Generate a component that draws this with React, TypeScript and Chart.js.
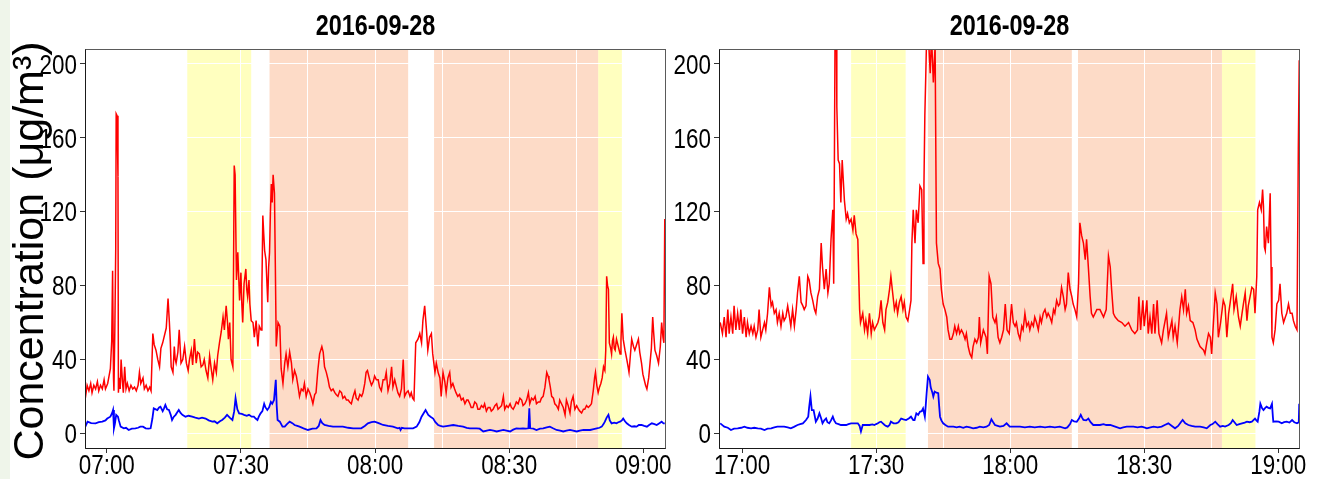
import { useEffect, useRef } from 'react';
import { Chart, registerables } from 'chart.js';

Chart.register(...registerables);

// ---- axis definitions ----
const yTickValues = [0, 40, 80, 120, 160, 200];
const xTickMinutes = [0, 15, 30, 45, 60, 75, 90, 105, 120];
const xLabelledMinutes = [0, 30, 60, 90, 120];
const panelTitle = '2016-09-28';
const yAxisTitle = 'Concentration (μg/m³)';
const amStartHour = 7;
const pmStartHour = 17;

// ---- shaded periods [start, end] in minutes after the start hour ----
const amYellow: [number, number][] = [[18.0, 32.3], [109.9, 115.2]];
const amPeach: [number, number][] = [[36.4, 67.4], [73.2, 109.9]];
const pmYellow: [number, number][] = [[24.4, 36.6], [107.4, 114.9]];
const pmPeach: [number, number][] = [[41.6, 73.8], [75.1, 107.4]];

// ---- morning PM2.5 (red), [minute, µg/m³] ----
const amPm25: [number, number][] = [
  [-4.8, 19], [-4.4, 26], [-4.0, 23], [-3.6, 27], [-3.3, 22], [-2.9, 26], [-2.5, 24], [-2.1, 28],
  [-1.8, 23], [-1.4, 26], [-1.0, 24], [-0.6, 29], [-0.3, 24], [0.2, 27], [0.5, 31], [0.8, 35],
  [1.1, 50], [1.3, 88], [1.5, 30], [1.6, 23], [1.8, 56], [2.0, 100], [2.1, 173], [2.3, 172],
  [2.5, 139], [2.6, 22], [2.8, 30], [3.0, 24], [3.2, 40], [3.5, 28], [3.7, 22], [4.0, 36],
  [4.3, 24], [4.6, 27], [5.0, 23], [5.4, 26], [5.8, 24], [6.2, 25], [6.6, 23], [7.0, 26],
  [7.3, 33], [7.6, 27], [8.1, 30], [8.4, 24], [8.8, 26], [9.2, 23], [9.6, 25], [9.9, 23],
  [10.3, 54], [10.6, 48], [11.0, 45], [11.4, 40], [11.8, 36], [12.1, 46], [12.5, 49], [13.3, 57],
  [13.5, 65], [13.7, 73], [14.0, 60], [14.2, 50], [14.4, 36], [14.8, 33], [15.1, 47], [15.3, 40],
  [15.5, 38], [15.9, 44], [16.2, 56], [16.6, 38], [17.0, 40], [17.4, 47], [17.8, 38], [18.2, 34],
  [18.5, 40], [18.9, 45], [19.2, 37], [19.6, 51], [20.0, 38], [20.3, 44], [20.7, 43], [21.1, 36],
  [21.5, 37], [21.8, 40], [22.2, 34], [22.6, 30], [23.0, 42], [23.3, 36], [23.7, 29], [24.1, 38],
  [24.5, 33], [24.8, 42], [25.2, 49], [25.6, 55], [26.0, 63], [26.3, 56], [26.7, 69], [27.0, 60],
  [27.2, 51], [27.5, 60], [27.8, 40], [28.2, 36], [28.5, 145], [28.7, 140], [29.0, 83], [29.3, 98],
  [29.7, 72], [30.0, 87], [30.2, 70], [30.4, 60], [30.7, 81], [31.1, 89], [31.3, 78], [31.5, 74],
  [31.8, 83], [32.0, 70], [32.3, 61], [32.7, 60], [33.0, 52], [33.4, 61], [33.8, 47], [34.1, 58],
  [34.5, 56], [34.7, 80], [34.9, 118], [35.1, 108], [35.3, 99], [35.6, 94], [36.0, 71], [36.2, 90],
  [36.4, 98], [36.6, 120], [36.8, 135], [37.0, 125], [37.2, 140], [37.5, 130], [37.7, 90], [37.9, 47],
  [38.3, 60], [38.7, 58], [39.0, 35], [39.4, 27], [39.8, 38], [40.1, 43], [40.5, 36], [40.9, 44],
  [41.3, 38], [41.6, 29], [42.0, 34], [42.4, 31], [42.8, 25], [43.1, 20], [43.5, 24], [43.9, 23],
  [44.2, 27], [44.6, 20], [45.0, 24], [45.4, 22], [45.8, 19], [46.1, 16], [46.5, 21], [46.8, 22],
  [47.2, 34], [47.6, 43], [48.1, 47], [48.4, 44], [48.7, 36], [49.1, 33], [49.5, 29], [49.8, 25],
  [50.2, 23], [50.6, 24], [51.0, 22], [51.3, 21], [51.7, 20], [52.1, 23], [52.5, 22], [52.8, 19],
  [53.2, 20], [53.6, 18], [54.0, 18], [54.3, 17], [54.7, 16], [55.1, 20], [55.5, 23], [55.8, 19],
  [56.2, 18], [56.6, 21], [57.0, 20], [57.3, 22], [57.7, 27], [58.0, 33], [58.3, 34], [58.8, 29],
  [59.2, 26], [59.6, 28], [59.9, 31], [60.3, 29], [60.7, 29], [61.0, 25], [61.4, 23], [61.8, 29],
  [62.2, 29], [62.5, 33], [62.9, 23], [63.3, 27], [63.7, 36], [64.0, 25], [64.4, 29], [64.8, 25],
  [65.1, 22], [65.5, 20], [65.9, 24], [66.3, 40], [66.6, 20], [67.0, 22], [67.4, 23], [67.8, 20],
  [68.1, 22], [68.4, 19], [68.7, 18], [69.1, 49], [69.6, 51], [70.0, 54], [70.4, 49], [70.7, 61],
  [71.1, 69], [71.5, 56], [71.8, 45], [72.2, 52], [72.6, 54], [72.9, 43], [73.4, 33], [73.7, 38],
  [74.1, 33], [74.5, 30], [74.8, 20], [75.2, 33], [75.6, 28], [75.9, 22], [76.3, 30], [76.7, 33],
  [77.0, 25], [77.4, 27], [77.8, 24], [78.1, 22], [78.5, 20], [78.9, 21], [79.3, 18], [79.7, 19],
  [80.1, 16], [80.5, 18], [80.8, 18], [81.2, 16], [81.5, 14], [81.9, 14], [82.3, 17], [82.7, 16],
  [83.0, 13], [83.4, 13], [83.8, 15], [84.2, 14], [84.5, 16], [84.9, 12], [85.3, 14], [85.7, 14],
  [86.0, 12], [86.4, 13], [86.8, 15], [87.2, 16], [87.5, 13], [87.9, 14], [88.3, 15], [88.7, 20],
  [89.0, 13], [89.4, 15], [89.8, 14], [90.2, 16], [90.5, 14], [90.9, 13], [91.3, 15], [91.6, 17],
  [92.0, 16], [92.4, 19], [92.8, 18], [93.1, 15], [93.5, 16], [93.9, 18], [94.3, 22], [94.6, 16],
  [95.0, 19], [95.4, 18], [95.8, 20], [96.1, 16], [96.5, 17], [96.9, 17], [97.2, 19], [97.6, 20],
  [98.0, 25], [98.4, 33], [98.7, 31], [98.9, 29], [99.2, 25], [99.5, 20], [99.9, 19], [100.2, 16],
  [100.6, 15], [101.0, 13], [101.3, 18], [101.7, 16], [102.1, 14], [102.5, 10], [102.8, 18], [103.2, 15],
  [103.6, 11], [103.9, 17], [104.3, 20], [104.7, 13], [105.1, 15], [105.5, 13], [105.8, 12], [106.2, 11],
  [106.6, 13], [106.9, 13], [107.3, 15], [107.7, 14], [108.1, 15], [108.4, 16], [108.8, 23], [109.1, 30],
  [109.3, 33], [109.6, 26], [109.9, 22], [110.2, 25], [110.5, 27], [110.8, 30], [111.1, 36], [111.4, 34],
  [111.6, 45], [111.8, 85], [112.0, 80], [112.2, 78], [112.4, 49], [112.7, 46], [112.9, 43], [113.1, 50],
  [113.3, 52], [113.5, 46], [113.7, 45], [114.0, 51], [114.4, 47], [114.8, 43], [115.0, 50], [115.2, 65],
  [115.5, 51], [115.9, 45], [116.3, 40], [116.6, 36], [116.8, 33], [117.1, 42], [117.4, 51], [117.8, 47],
  [118.1, 45], [118.5, 48], [118.9, 51], [119.2, 44], [119.6, 38], [119.9, 32], [120.2, 29], [120.5, 26],
  [120.8, 24], [121.2, 30], [121.5, 38], [121.8, 46], [122.1, 63], [122.3, 55], [122.6, 45], [123.0, 42],
  [123.4, 38], [123.8, 47], [124.1, 60], [124.4, 52], [124.6, 49], [124.8, 116],
];

// ---- morning black carbon (blue) ----
const amBc: [number, number][] = [
  [-4.8, 3.6], [-4.3, 6.3], [-3.5, 5.5], [-2.5, 5.4], [-1.8, 6], [-1.0, 6.3], [-0.3, 7], [0.1, 8],
  [0.8, 9], [1.2, 11], [1.4, 12.6], [1.6, 2.7], [1.8, 5], [2.1, 10], [2.5, 9], [2.7, 7],
  [3.1, 3.6], [3.8, 2.7], [4.3, 3], [4.9, 1.8], [5.6, 2.5], [6.4, 2.7], [7.0, 3], [7.5, 3.6],
  [8.1, 3.6], [8.7, 2.7], [9.3, 2.5], [9.8, 2.7], [10.2, 8], [10.5, 13.5], [11.3, 12.6], [11.7, 14],
  [12.0, 14.4], [12.5, 12], [12.8, 13.5], [13.1, 15.4], [13.5, 13], [13.9, 12.6], [14.3, 10], [14.6, 7.2],
  [15.0, 9], [15.4, 10], [15.8, 11.5], [16.1, 12.6], [16.5, 11], [16.9, 10], [17.6, 9], [18.3, 9.5],
  [19.1, 9], [19.8, 8.5], [20.6, 8], [21.3, 8.5], [22.1, 8], [22.8, 7], [23.6, 6.3], [24.1, 6.5],
  [24.7, 5.4], [25.3, 6.5], [25.8, 7.2], [26.4, 8.5], [26.9, 10], [27.5, 8.5], [28.1, 7.2], [28.5, 12],
  [28.8, 19], [29.2, 13], [29.6, 10.8], [30.2, 10.5], [30.7, 10], [31.3, 9.5], [31.8, 10], [32.4, 9],
  [32.9, 9], [33.3, 8], [33.7, 7.2], [34.0, 9], [34.4, 10.8], [34.8, 12], [35.2, 16], [35.5, 14],
  [35.9, 12.6], [36.3, 14], [36.7, 17], [37.0, 16], [37.4, 18], [37.8, 29], [38.0, 15], [38.2, 7.2],
  [38.7, 6.3], [39.3, 3.6], [39.8, 3.6], [40.3, 5], [40.9, 6.3], [41.5, 5.5], [42.0, 4.5], [42.6, 4],
  [43.1, 3.6], [44.0, 2.7], [45.0, 1.8], [46.0, 2.5], [46.9, 2.7], [47.4, 4], [47.8, 7.2], [48.2, 5.5],
  [48.7, 4.5], [49.6, 4], [50.6, 3.6], [51.7, 3.6], [52.8, 3.6], [54.0, 3], [55.1, 2.7], [56.0, 2.7],
  [56.9, 2.7], [57.7, 4], [58.4, 5.4], [59.2, 6], [59.9, 6.3], [60.8, 5.5], [61.8, 4.5], [62.9, 4],
  [64.0, 3.6], [65.1, 2.7], [65.5, 3], [65.7, 1.8], [66.0, 3], [66.6, 2.7], [67.5, 2.7], [68.5, 2.7],
  [69.3, 3.6], [69.9, 6], [70.4, 9], [70.9, 11], [71.3, 12.6], [71.9, 10], [72.4, 9], [73.0, 8],
  [73.5, 6], [74.1, 4.5], [74.6, 4], [75.2, 3.6], [76.3, 4], [77.5, 4.5], [78.6, 4], [79.7, 3.6],
  [80.5, 3], [81.2, 2.7], [82.0, 2.7], [82.7, 2.7], [83.4, 2.5], [84.2, 1], [85.0, 1.5], [85.7, 1.8],
  [86.5, 1.5], [87.2, 1], [88.0, 1.5], [88.7, 1.8], [89.4, 1.5], [90.2, 1], [90.9, 2], [91.6, 2.7],
  [92.4, 2.5], [93.1, 2.7], [93.7, 2.5], [94.3, 2.7], [94.5, 13.5], [94.7, 2.7], [95.4, 2.5], [96.1, 1.8],
  [96.9, 2.5], [97.6, 2.7], [98.4, 3.2], [99.1, 3.6], [99.8, 2.7], [100.6, 1.8], [101.4, 1.5], [102.1, 1],
  [102.8, 1.5], [103.6, 1.8], [104.3, 1.5], [105.1, 1], [105.8, 1.5], [106.6, 1.8], [107.3, 1.8], [108.1, 1.8],
  [108.9, 2.3], [109.6, 2.7], [110.2, 3], [110.7, 3.6], [111.1, 5], [111.4, 6.3], [111.8, 8.5], [112.2, 10],
  [112.5, 7], [112.9, 5.4], [113.5, 5.8], [114.0, 5.4], [114.4, 6], [114.8, 6.3], [115.2, 7], [115.5, 8],
  [115.9, 6.5], [116.3, 5.4], [116.8, 4.5], [117.4, 3.6], [118.0, 3.8], [118.5, 3.6], [119.0, 4.5], [119.6, 4.5],
  [120.2, 4], [120.8, 3.6], [121.3, 4.5], [121.9, 5.4], [122.5, 5], [123.0, 4.5], [123.6, 5.5], [124.1, 6.3],
  [124.5, 5.4], [124.8, 5.4],
];

// ---- evening PM2.5 (red) ----
const pmPm25: [number, number][] = [
  [-4.9, 60], [-4.4, 54], [-4.0, 63], [-3.6, 52], [-3.2, 67], [-2.9, 54], [-2.5, 63], [-2.1, 54],
  [-1.8, 69], [-1.4, 56], [-1.0, 65], [-0.6, 56], [-0.3, 67], [0.1, 54], [0.5, 63], [0.9, 52],
  [1.2, 60], [1.6, 54], [2.0, 58], [2.4, 54], [2.7, 58], [3.1, 52], [3.5, 56], [3.8, 67],
  [4.2, 52], [4.6, 56], [5.0, 60], [5.3, 56], [5.7, 65], [6.1, 79], [6.5, 69], [6.8, 71],
  [7.2, 65], [7.6, 67], [7.9, 60], [8.3, 65], [8.7, 58], [9.1, 65], [9.4, 61], [9.8, 63],
  [10.2, 69], [10.6, 63], [10.9, 58], [11.3, 67], [11.7, 58], [12.1, 67], [12.4, 76], [12.8, 85],
  [13.2, 71], [13.6, 69], [13.9, 67], [14.3, 69], [14.7, 85], [15.0, 83], [15.4, 76], [15.8, 72],
  [16.2, 67], [16.5, 65], [16.9, 74], [17.3, 78], [17.7, 103], [18.0, 90], [18.4, 78], [18.8, 89],
  [19.2, 76], [19.5, 81], [19.9, 105], [20.3, 121], [20.5, 81], [20.6, 121], [20.8, 215], [21.1, 215],
  [21.2, 177], [21.5, 148], [21.8, 146], [22.1, 125], [22.4, 148], [22.9, 126], [23.3, 116], [23.6, 119],
  [24.0, 114], [24.4, 116], [24.8, 110], [25.1, 118], [25.5, 108], [25.9, 105], [26.3, 67], [26.5, 60],
  [27.0, 65], [27.4, 56], [27.7, 61], [28.1, 54], [28.5, 65], [28.9, 54], [29.2, 60], [29.6, 56],
  [30.0, 58], [30.4, 60], [30.7, 63], [31.1, 72], [31.5, 60], [31.9, 56], [32.2, 67], [32.6, 71],
  [33.0, 78], [33.3, 85], [33.7, 76], [34.1, 67], [34.5, 71], [34.8, 65], [35.2, 71], [35.6, 74],
  [36.0, 67], [36.3, 71], [36.7, 63], [37.1, 61], [37.5, 67], [37.8, 72], [38.0, 103], [38.3, 121],
  [38.7, 103], [39.0, 121], [39.4, 114], [39.8, 134], [40.2, 132], [40.5, 92], [40.7, 135], [40.9, 172],
  [41.1, 193], [41.3, 215], [41.7, 215], [42.1, 195], [42.4, 215], [42.8, 190], [43.2, 210], [43.5, 103],
  [43.9, 92], [44.3, 89], [44.6, 78], [45.0, 70], [45.4, 67], [45.8, 63], [46.1, 56], [46.5, 51],
  [46.9, 51], [47.3, 54], [47.6, 58], [48.0, 54], [48.4, 58], [48.7, 54], [49.1, 56], [49.5, 54],
  [49.9, 51], [50.2, 54], [50.6, 47], [51.0, 43], [51.4, 41], [51.7, 47], [52.1, 51], [52.5, 49],
  [52.9, 52], [53.1, 63], [53.4, 49], [54.0, 56], [54.6, 52], [54.9, 43], [55.3, 85], [55.7, 81],
  [56.1, 63], [56.6, 60], [56.9, 63], [57.3, 52], [57.7, 49], [58.1, 52], [58.5, 56], [58.9, 70],
  [59.3, 56], [59.8, 54], [60.3, 70], [60.7, 60], [61.1, 58], [61.4, 60], [61.8, 54], [62.2, 51],
  [62.6, 58], [62.9, 56], [63.3, 65], [63.7, 58], [64.1, 60], [64.4, 56], [64.8, 60], [65.2, 58],
  [65.5, 63], [65.9, 60], [66.3, 56], [66.7, 63], [67.0, 60], [67.4, 65], [67.8, 67], [68.2, 63],
  [68.5, 65], [68.9, 63], [69.3, 60], [69.7, 67], [70.0, 65], [70.4, 72], [70.8, 69], [71.1, 70],
  [71.5, 79], [71.9, 74], [72.3, 67], [72.6, 70], [73.0, 87], [73.4, 78], [73.8, 74], [74.1, 70],
  [74.5, 67], [74.9, 63], [75.3, 81], [75.6, 114], [76.0, 107], [76.4, 103], [76.8, 94], [77.1, 105],
  [77.5, 90], [77.9, 74], [78.2, 65], [78.6, 63], [79.4, 67], [80.1, 67], [80.9, 63], [81.5, 67],
  [82.0, 96], [82.4, 90], [82.7, 78], [83.1, 65], [83.5, 63], [84.2, 61], [85.0, 60], [85.7, 58],
  [86.5, 60], [87.2, 56], [87.9, 54], [88.5, 56], [88.8, 74], [89.2, 56], [89.7, 72], [90.0, 58],
  [90.6, 72], [90.9, 54], [91.3, 63], [91.7, 54], [92.1, 70], [92.4, 54], [92.9, 72], [93.3, 54],
  [93.9, 49], [94.3, 56], [95.0, 65], [95.4, 52], [96.2, 61], [96.5, 52], [96.9, 58], [97.4, 49],
  [98.0, 67], [98.4, 74], [98.8, 67], [99.2, 78], [99.5, 65], [99.9, 69], [100.3, 61], [100.9, 60],
  [101.4, 56], [101.8, 51], [102.5, 47], [103.3, 45], [103.6, 43], [104.0, 49], [104.4, 54], [104.8, 52],
  [105.1, 43], [105.5, 60], [105.9, 76], [106.3, 70], [106.6, 52], [107.1, 60], [107.7, 72], [108.1, 69],
  [108.5, 52], [108.9, 65], [109.2, 70], [109.8, 81], [110.1, 67], [110.6, 74], [111.1, 63], [111.5, 58],
  [111.9, 65], [112.2, 70], [112.6, 76], [113.0, 61], [113.3, 69], [113.7, 74], [114.1, 79], [114.5, 78],
  [114.8, 65], [115.2, 85], [115.4, 121], [115.8, 125], [116.2, 121], [116.5, 132], [116.7, 123], [116.9, 101],
  [117.1, 99], [117.4, 112], [117.8, 103], [118.2, 130], [118.4, 90], [118.6, 52], [118.9, 49], [119.3, 56],
  [119.7, 70], [120.1, 72], [120.4, 81], [120.8, 65], [121.2, 60], [121.6, 63], [121.9, 65], [122.3, 70],
  [122.7, 65], [123.1, 65], [123.4, 61], [123.8, 58], [124.2, 56], [124.5, 154], [124.7, 202],
];

// ---- evening black carbon (blue) ----
const pmBc: [number, number][] = [
  [-4.9, 5.4], [-4.0, 3.6], [-3.2, 3], [-2.5, 1.8], [-1.8, 2.5], [-1.0, 2.7], [-0.2, 3], [0.5, 3.6],
  [1.2, 3], [2.0, 2.7], [2.7, 3], [3.5, 2.7], [4.2, 2.5], [5.0, 1.8], [5.7, 2.5], [6.5, 2.7],
  [7.2, 3.2], [7.9, 3.6], [8.7, 3.6], [9.4, 3.6], [10.2, 3.2], [10.9, 2.7], [11.6, 3.5], [12.4, 4.5],
  [13.0, 5], [13.6, 5.4], [14.3, 7.2], [14.8, 9], [15.0, 14], [15.3, 20], [15.6, 12.6], [16.0, 12.6],
  [16.5, 6.3], [16.9, 8], [17.3, 10.8], [17.7, 8], [18.0, 5.4], [18.4, 7], [18.8, 8], [19.1, 6],
  [19.5, 5.4], [19.9, 7], [20.3, 9], [20.6, 7], [21.0, 5.4], [21.6, 5], [22.1, 4.5], [22.7, 4.5],
  [23.3, 4.5], [23.8, 5], [24.4, 5.4], [25.1, 5.4], [25.9, 5.4], [26.3, 4], [26.6, 1], [27.0, 4.5],
  [27.7, 4.5], [28.5, 4.5], [29.2, 4.8], [29.6, 4.5], [30.0, 5], [30.4, 5.4], [30.7, 6], [31.1, 6.3],
  [31.5, 5.4], [31.9, 4.5], [32.2, 4], [32.6, 3.6], [33.0, 4.5], [33.3, 6.3], [33.9, 5.4], [34.5, 5.4],
  [35.0, 6], [35.6, 8], [36.1, 7.5], [36.7, 7.2], [37.3, 8], [37.8, 9], [38.3, 7.2], [38.6, 7.2],
  [39.0, 10.8], [39.4, 10], [39.8, 11.7], [40.2, 12], [40.5, 13.5], [40.9, 9], [41.1, 15], [41.3, 21.7],
  [41.6, 30.7], [42.0, 28.9], [42.2, 25], [42.4, 23.5], [42.6, 22], [42.8, 19.9], [43.1, 22.6], [43.5, 22],
  [43.9, 21.7], [44.1, 15], [44.3, 9], [44.6, 7], [45.0, 5.4], [45.5, 4.5], [46.1, 3.6], [46.7, 3.6],
  [47.3, 3.6], [48.0, 3.2], [48.7, 3.6], [49.5, 3], [50.2, 3.6], [51.0, 3.2], [51.7, 2.7], [52.5, 3],
  [53.2, 3.6], [54.0, 3.2], [54.7, 3.6], [55.3, 4.5], [55.8, 7.6], [56.2, 6], [56.6, 4.5], [57.2, 4],
  [57.7, 3.6], [58.5, 4], [59.2, 5.4], [59.9, 3.6], [61.0, 3.6], [62.2, 3.6], [63.3, 3.2], [64.4, 3.6],
  [65.5, 3.2], [66.7, 3.6], [67.8, 3.2], [68.9, 3.6], [70.0, 3.2], [71.1, 3.6], [72.3, 2.7], [72.8, 3.2],
  [73.4, 5], [73.8, 7.2], [74.3, 6.5], [74.9, 6.3], [75.4, 8], [75.8, 10], [76.1, 8.5], [76.4, 7.2],
  [77.0, 7], [77.5, 8], [78.0, 6], [78.6, 4.5], [79.4, 4.5], [80.1, 4.5], [80.9, 5], [81.5, 4.5],
  [82.4, 4.5], [83.5, 3.6], [84.6, 2.7], [85.3, 3.2], [86.1, 3.6], [86.9, 3.6], [87.6, 3.6], [88.5, 3.2],
  [89.4, 3.6], [90.0, 3.2], [90.6, 2.7], [91.4, 3.2], [92.1, 3.6], [93.0, 3.2], [93.9, 3.6], [94.6, 4.5],
  [95.4, 5.4], [96.2, 4], [96.9, 2.7], [97.6, 4], [98.2, 6], [98.6, 7.2], [99.2, 5.4], [99.9, 4.5],
  [100.6, 4], [101.4, 3.6], [102.0, 3.6], [102.5, 3.6], [103.3, 3.2], [104.0, 2.7], [104.8, 4.5], [105.3, 5],
  [105.9, 6.3], [106.4, 5], [107.0, 3.6], [107.6, 4], [108.1, 3.6], [108.9, 4.5], [109.4, 5.5], [109.8, 7.2],
  [110.2, 6], [110.7, 4.5], [111.3, 5], [111.9, 5.4], [112.5, 5.8], [113.0, 6.3], [113.6, 6], [114.1, 6.3],
  [114.8, 8], [115.1, 7], [115.4, 6.3], [115.8, 12], [116.0, 16], [116.4, 13.5], [116.7, 12.6], [117.0, 13.5],
  [117.4, 14.4], [117.8, 13.8], [118.2, 13.5], [118.6, 16], [118.8, 9], [118.9, 6.3], [119.5, 6.5], [120.1, 6.3],
  [120.8, 5.4], [121.3, 6], [121.9, 6.3], [122.5, 5.8], [123.1, 7.2], [123.6, 6], [124.2, 5.4], [124.6, 6],
  [124.7, 16], [124.8, 16],
];

const SANS = '"Liberation Sans", Arial, sans-serif';
const YELLOW = '#FFFFBF';
const PEACH = '#FDDBC7';
const TICK_FONT_SIZE = 27;
const TICK_SQUEEZE = 0.83;
const TITLE_SQUEEZE = 0.78;

type PanelProps = {
  canvasLeft: number;
  canvasWidth: number;
  axisWidth: number;
  rightPad: number;
  startHour: number;
  xMin: number;
  xMax: number;
  pm25: [number, number][];
  bc: [number, number][];
  yellow: [number, number][];
  peach: [number, number][];
  showYTitle: boolean;
};

const CANVAS_H = 479;
const PLOT_TOP = 50;
const PLOT_BOTTOM = 448;

function fmtTime(startHour: number, minutes: number) {
  const total = startHour * 60 + minutes;
  const h = Math.floor(total / 60);
  const m = Math.round(total % 60);
  return `${String(h).padStart(2, '0')}:${String(m).padStart(2, '0')}`;
}

// condensed text: the axis fonts are narrow, so squeeze horizontally
function squeezedText(
  ctx: CanvasRenderingContext2D,
  text: string,
  x: number,
  y: number,
  sx: number,
  align: CanvasTextAlign,
) {
  ctx.save();
  ctx.translate(x, y);
  ctx.scale(sx, 1);
  ctx.textAlign = align;
  ctx.textBaseline = 'alphabetic';
  ctx.fillText(text, 0, 0);
  ctx.restore();
}

function Panel(p: PanelProps) {
  const ref = useRef<HTMLCanvasElement | null>(null);

  useEffect(() => {
    const canvas = ref.current;
    if (!canvas) return;

    const decor = {
      id: 'panelDecor',
      beforeDraw(chart: any) {
        const { ctx, chartArea: a, scales } = chart;
        const x = scales.x;
        ctx.save();
        // shared y-axis title, sits under the tick labels
        if (p.showYTitle) {
          ctx.save();
          ctx.fillStyle = '#000';
          ctx.translate(43, 251);
          ctx.rotate(-Math.PI / 2);
          ctx.font = `43px ${SANS}`;
          ctx.textAlign = 'center';
          ctx.textBaseline = 'alphabetic';
          ctx.fillText(yAxisTitle, 0, 0);
          ctx.restore();
        }
        ctx.beginPath();
        ctx.rect(a.left, a.top, a.right - a.left, a.bottom - a.top);
        ctx.clip();
        const band = (ranges: [number, number][], color: string) => {
          ctx.fillStyle = color;
          for (const [s, e] of ranges) {
            const x0 = x.getPixelForValue(s);
            const x1 = x.getPixelForValue(e);
            ctx.fillRect(x0, a.top, x1 - x0, a.bottom - a.top);
          }
        };
        band(p.yellow, YELLOW);
        band(p.peach, PEACH);
        ctx.restore();
      },
      afterDraw(chart: any) {
        const { ctx, chartArea: a, scales } = chart;
        ctx.save();
        // panel frame
        ctx.lineWidth = 1;
        ctx.strokeStyle = '#5a5a5a';
        ctx.strokeRect(a.left - 0.5, a.top - 0.5, a.right - a.left + 1, a.bottom - a.top + 1);
        ctx.strokeStyle = '#1a1a1a';
        ctx.beginPath();
        ctx.moveTo(a.left - 0.5, a.top - 0.5);
        ctx.lineTo(a.left - 0.5, a.bottom + 0.5);
        ctx.lineTo(a.right + 0.5, a.bottom + 0.5);
        ctx.stroke();

        ctx.fillStyle = '#000';
        // tick labels
        ctx.font = `${TICK_FONT_SIZE}px ${SANS}`;
        for (const v of xLabelledMinutes) {
          squeezedText(ctx, fmtTime(p.startHour, v), scales.x.getPixelForValue(v), 473.5, TICK_SQUEEZE, 'center');
        }
        for (const v of yTickValues) {
          squeezedText(ctx, String(v), a.left - 9, scales.y.getPixelForValue(v) + 9.7, TICK_SQUEEZE, 'right');
        }
        // panel title
        ctx.font = `bold 30px ${SANS}`;
        squeezedText(ctx, panelTitle, (a.left + a.right) / 2, 35, TITLE_SQUEEZE, 'center');
        ctx.restore();
      },
    };

    const chart = new Chart(canvas, {
      type: 'line',
      data: {
        datasets: [
          {
            data: p.bc.map(([x, y]) => ({ x, y })),
            borderColor: '#0000FF',
            borderWidth: 1.8,
            pointRadius: 0,
            tension: 0,
          },
          {
            data: p.pm25.map(([x, y]) => ({ x, y })),
            borderColor: '#FF0000',
            borderWidth: 1.5,
            pointRadius: 0,
            tension: 0,
          },
        ],
      },
      options: {
        animation: false,
        responsive: false,
        devicePixelRatio: 1,
        events: [],
        layout: { padding: { top: PLOT_TOP, right: p.rightPad, bottom: 0, left: 0 } },
        plugins: { legend: { display: false }, tooltip: { enabled: false }, title: { display: false } },
        scales: {
          x: {
            type: 'linear',
            min: p.xMin,
            max: p.xMax,
            afterBuildTicks: (s: any) => {
              s.ticks = xTickMinutes.map((v) => ({ value: v }));
            },
            afterFit: (s: any) => {
              s.height = CANVAS_H - PLOT_BOTTOM;
            },
            ticks: { display: false, autoSkip: false, maxRotation: 0 },
            grid: {
              color: '#ffffff',
              lineWidth: 1,
              tickLength: 5,
              tickColor: (c: any) =>
                c.tick && xLabelledMinutes.includes(c.tick.value) ? '#333333' : 'rgba(0,0,0,0)',
            },
            border: { display: false },
          },
          y: {
            type: 'linear',
            min: -7.96,
            max: 207.58,
            afterBuildTicks: (s: any) => {
              s.ticks = yTickValues.map((v) => ({ value: v }));
            },
            afterFit: (s: any) => {
              s.width = p.axisWidth;
            },
            ticks: { display: false },
            grid: { color: '#ffffff', lineWidth: 1, tickLength: 6, tickColor: '#333333' },
            border: { display: false },
          },
        },
      },
      plugins: [decor],
    } as any);

    return () => chart.destroy();
  }, []);

  return (
    <canvas
      ref={ref}
      width={p.canvasWidth}
      height={CANVAS_H}
      style={{ position: 'absolute', left: p.canvasLeft, top: 0, width: p.canvasWidth, height: CANVAS_H }}
    />
  );
}

export default function App() {
  return (
    <div
      style={{
        position: 'fixed',
        left: 0,
        top: 0,
        width: 1321,
        height: 479,
        background: '#ffffff',
        overflow: 'hidden',
      }}
    >
      <div style={{ position: 'absolute', left: 0, top: 0, width: 10, height: 479, background: '#EFF5EA' }} />
      <Panel
        canvasLeft={0}
        canvasWidth={680}
        axisWidth={86}
        rightPad={15}
        startHour={amStartHour}
        xMin={-4.65}
        xMax={124.85}
        pm25={amPm25}
        bc={amBc}
        yellow={amYellow}
        peach={amPeach}
        showYTitle={true}
      />
      <Panel
        canvasLeft={640}
        canvasWidth={681}
        axisWidth={80}
        rightPad={22}
        startHour={pmStartHour}
        xMin={-4.95}
        xMax={124.65}
        pm25={pmPm25}
        bc={pmBc}
        yellow={pmYellow}
        peach={pmPeach}
        showYTitle={false}
      />
    </div>
  );
}
